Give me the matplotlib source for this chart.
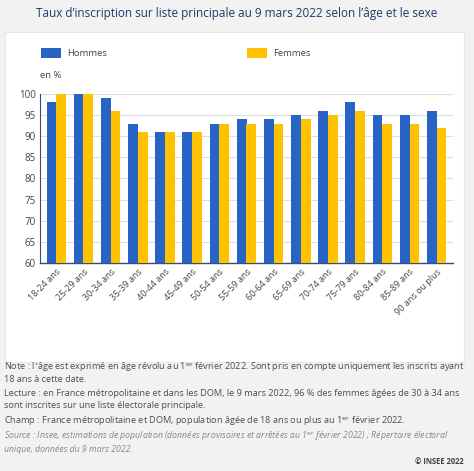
import matplotlib
matplotlib.use('Agg')
import matplotlib.pyplot as plt
import numpy as np
from matplotlib.patches import Rectangle

plt.rcParams['font.family'] = ['Open Sans', 'DejaVu Sans']

TITLE = 'Taux d\u2019inscription sur liste principale au 9 mars 2022 selon l\u2019\u00e2ge et le sexe'

AGES = ['18-24 ans', '25-29 ans', '30-34 ans', '35-39 ans', '40-44 ans',
        '45-49 ans', '50-54 ans', '55-59 ans', '60-64 ans', '65-69 ans',
        '70-74 ans', '75-79 ans', '80-84 ans', '85-89 ans', '90 ans ou plus']
HOMMES = [98, 100, 99, 93, 91, 91, 93, 94, 94, 95, 96, 98, 95, 95, 96]
FEMMES = [100, 100, 96, 91, 91, 91, 93, 93, 93, 94, 95, 96, 93, 93, 92]

Y_TICKS = [60, 65, 70, 75, 80, 85, 90, 95, 100]

BLUE = '#2863c6'
YELLOW = '#fec200'
NAVY = '#1d3a6b'
TEXT = '#555555'

W, H = 474, 471
fig = plt.figure(figsize=(W / 100, H / 100), dpi=100)
fig.patch.set_facecolor('#f2f2f2')


def fx(px):
    return px / W


def fy(py):
    return 1 - py / H


# white chart panel
fig.patches.append(Rectangle((fx(5), fy(362)), fx(464) - fx(5), fy(32) - fy(362),
                             transform=fig.transFigure, facecolor='white',
                             edgecolor='#e6e6e6', linewidth=0.8, zorder=-1))

fig.text(0.5, fy(14), TITLE, ha='center', va='center', fontsize=8.5, color=NAVY)

ax = fig.add_axes([fx(40), fy(263), fx(453) - fx(40), fy(94) - fy(263)])
ax.set_zorder(2)
ax.patch.set_alpha(0)
x = np.arange(len(AGES))
bw = 0.36
ax.bar(x - bw / 2, HOMMES, width=bw, color=BLUE, zorder=3)
ax.bar(x + bw / 2, FEMMES, width=bw, color=YELLOW, zorder=3)
ax.set_ylim(60, 100)
ax.set_xlim(-0.6, len(AGES) - 0.4)
ax.set_yticks(Y_TICKS)
ax.set_yticklabels([str(v) for v in Y_TICKS], fontsize=7, color='#444444')
ax.set_xticks(x)
ax.set_xticklabels(AGES, rotation=45, ha='right', rotation_mode='anchor',
                   fontsize=6.5, color='#444444')
ax.tick_params(axis='both', length=0, pad=3)
ax.grid(axis='y', color='#dddddd', linewidth=0.8, zorder=0)
for s in ['top', 'right']:
    ax.spines[s].set_visible(False)
ax.spines['left'].set_color('#3a4a7a')
ax.spines['bottom'].set_color('#3a4a7a')
ax.spines['left'].set_linewidth(0.8)
ax.spines['bottom'].set_linewidth(1.0)

# legend
fig.patches.append(Rectangle((fx(41), fy(58)), fx(20), fy(48) - fy(58),
                             transform=fig.transFigure, facecolor=BLUE, zorder=2))
fig.text(fx(67), fy(53), 'Hommes', va='center', fontsize=6.8, color='#444444')
fig.patches.append(Rectangle((fx(247), fy(58)), fx(20), fy(48) - fy(58),
                             transform=fig.transFigure, facecolor=YELLOW, zorder=2))
fig.text(fx(273), fy(53), 'Femmes', va='center', fontsize=6.8, color='#444444')
fig.text(fx(40), fy(76), 'en %', va='center', fontsize=6.8, color='#444444')

# notes
notes = [
    (367, 'Note : l\u2019\u00e2ge est exprim\u00e9 en \u00e2ge r\u00e9volu au 1$^{\\rm er}$ f\u00e9vrier 2022. Sont pris en compte uniquement les inscrits ayant'),
    (379, '18 ans \u00e0 cette date.'),
    (394, 'Lecture : en France m\u00e9tropolitaine et dans les DOM, le 9 mars 2022, 96 % des femmes \u00e2g\u00e9es de 30 \u00e0 34 ans'),
    (406, 'sont inscrites sur une liste \u00e9lectorale principale.'),
    (421, 'Champ : France m\u00e9tropolitaine et DOM, population \u00e2g\u00e9e de 18 ans ou plus au 1$^{\\rm er}$ f\u00e9vrier 2022.'),
]
for py, t in notes:
    fig.text(fx(4), fy(py), t, va='center', fontsize=6.6, color='#4d4d4d')
fig.text(fx(4), fy(436), 'Source : Insee, estimations de population (donn\u00e9es provisoires et arr\u00eat\u00e9es au 1$^{\\rm er}$ f\u00e9vrier 2022) ; R\u00e9pertoire \u00e9lectoral',
         va='center', fontsize=6.3, color='#888888', style='italic')
fig.text(fx(4), fy(449), 'unique, donn\u00e9es du 9 mars 2022.',
         va='center', fontsize=6.3, color='#888888', style='italic')
fig.text(fx(464), fy(462), '\u00a9 INSEE 2022', ha='right', va='center',
         fontsize=5.5, color='#444444', fontweight='bold')

fig.savefig('out.png', dpi=100, facecolor=fig.get_facecolor())
